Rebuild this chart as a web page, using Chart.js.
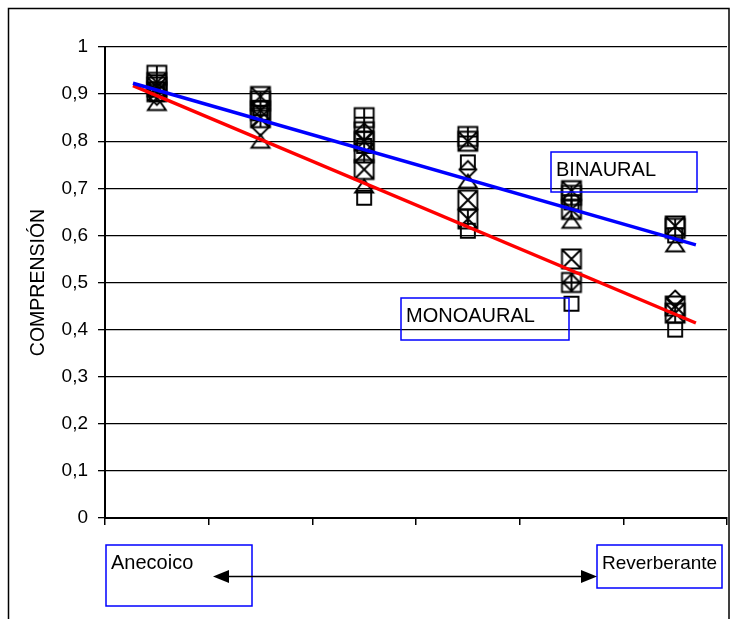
<!DOCTYPE html>
<html>
<head>
<meta charset="utf-8">
<script src="https://cdn.jsdelivr.net/npm/chart.js@4.4.1/dist/chart.umd.min.js"></script>
<style>
  body { margin: 0; background: #fff; }
</style>
</head>
<body>
<canvas id="chart" width="732" height="619"></canvas>
<script>
// categories along the x axis (no labels drawn, anecoico -> reverberante)
const categories = [0, 1, 2, 3, 4, 5];
const yTicks = [0, 0.1, 0.2, 0.3, 0.4, 0.5, 0.6, 0.7, 0.8, 0.9, 1];

// point series
const plusSquare  = [0.94, 0.885, 0.85, 0.81, 0.685, 0.615];
const crossSqA    = [0.925, 0.895, 0.80, 0.80, 0.695, 0.62];
const crossSqB    = [0.915, 0.865, 0.74, 0.675, 0.55, 0.45];
const starSquare  = [0.905, 0.85, 0.775, 0.635, 0.655, 0.435];
const diamonds    = [0.895, 0.83, 0.82, 0.74, 0.50, 0.465];
const triangles   = [0.88, 0.80, 0.705, 0.715, 0.63, 0.58];
const smallSqA    = [0.90, 0.86, 0.68, 0.755, 0.455, 0.40];
const smallSqB    = [0.91, 0.87, 0.79, 0.61, 0.67, 0.60];

// trend lines (start / end)
const binauralTrend  = [{ x: -0.23, y: 0.923 }, { x: 5.2, y: 0.58 }];
const monoauralTrend = [{ x: -0.23, y: 0.918 }, { x: 5.2, y: 0.414 }];

const FONT = "'Liberation Sans', Arial, sans-serif";

function makeMarker(kind) {
  const c = document.createElement("canvas");
  c.width = 24; c.height = 24;
  const g = c.getContext("2d");
  g.strokeStyle = "#000";
  g.lineWidth = 1.9;
  g.beginPath();
  if (kind === "square") {
    g.rect(5, 5, 14, 14);
  } else if (kind === "triangle") {
    g.moveTo(12, 5.5); g.lineTo(3, 18.5); g.lineTo(21, 18.5); g.closePath();
  } else if (kind === "diamond" || kind === "diamondSq") {
    g.moveTo(12, 3.5); g.lineTo(20.5, 12); g.lineTo(12, 20.5); g.lineTo(3.5, 12); g.closePath();
    if (kind === "diamondSq") { g.rect(2.5, 2.5, 19, 19); g.moveTo(3.5, 12); g.lineTo(20.5, 12); g.moveTo(12, 3.5); g.lineTo(12, 20.5); }
  } else {
    g.rect(2.5, 2.5, 19, 19);
    if (kind === "plus" || kind === "star") {
      if (kind === "plus") { g.moveTo(2.5, 12); g.lineTo(21.5, 12); }
      g.moveTo(12, 2.5); g.lineTo(12, 21.5);
    }
    if (kind === "cross" || kind === "star") {
      g.moveTo(2.5, 2.5); g.lineTo(21.5, 21.5);
      g.moveTo(21.5, 2.5); g.lineTo(2.5, 21.5);
    }
  }
  g.stroke();
  return c;
}

function pts(values) {
  return values.map((v, i) => ({ x: categories[i], y: v }));
}

function markerSet(label, values, style) {
  return {
    type: "scatter",
    label: label,
    data: pts(values),
    pointStyle: style,
    order: 1
  };
}

const dia = makeMarker("diamond"), diaSq = makeMarker("diamondSq");

// boxes and the arrow below the axis
const overlay = {
  id: "overlay",
  afterDraw(chart) {
    const ctx = chart.ctx;
    ctx.save();
    // outer frame
    ctx.strokeStyle = "#000";
    ctx.lineWidth = 1.5;
    ctx.strokeRect(8.5, 8.5, 720.5, 650);

    function box(x1, y1, x2, y2, text, size) {
      ctx.strokeStyle = "#0000ff";
      ctx.lineWidth = 1.5;
      ctx.strokeRect(x1, y1, x2 - x1, y2 - y1);
      ctx.fillStyle = "#000";
      ctx.font = size + "px " + FONT;
      ctx.textBaseline = "alphabetic";
      ctx.fillText(text, x1 + 5, y1 + 24);
    }
    box(551, 152, 697, 192, "BINAURAL", 20);
    box(401, 298, 569, 340, "MONOAURAL", 20);
    box(106, 545, 252, 606, "Anecoico", 20);
    box(597, 545, 722, 588, "Reverberante", 19);

    // double arrow
    const ay = 576.5, ax1 = 213, ax2 = 597;
    ctx.strokeStyle = "#000";
    ctx.fillStyle = "#000";
    ctx.lineWidth = 1.5;
    ctx.beginPath();
    ctx.moveTo(ax1 + 10, ay); ctx.lineTo(ax2 - 10, ay);
    ctx.stroke();
    ctx.beginPath();
    ctx.moveTo(ax1, ay); ctx.lineTo(ax1 + 16, ay - 6.5); ctx.lineTo(ax1 + 16, ay + 6.5); ctx.closePath();
    ctx.fill();
    ctx.beginPath();
    ctx.moveTo(ax2, ay); ctx.lineTo(ax2 - 16, ay - 6.5); ctx.lineTo(ax2 - 16, ay + 6.5); ctx.closePath();
    ctx.fill();
    ctx.restore();
  }
};

new Chart(document.getElementById("chart"), {
  type: "scatter",
  data: {
    datasets: [
      {
        type: "line", label: "BINAURAL", data: binauralTrend,
        borderColor: "#0000ff", borderWidth: 3.5, pointRadius: 0, order: 0
      },
      {
        type: "line", label: "MONOAURAL", data: monoauralTrend,
        borderColor: "#ff0000", borderWidth: 3.5, pointRadius: 0, order: 0
      },
      markerSet("plus", plusSquare, makeMarker("plus")),
      markerSet("crossA", crossSqA, makeMarker("cross")),
      markerSet("crossB", crossSqB, makeMarker("cross")),
      markerSet("star", starSquare, makeMarker("star")),
      markerSet("diamond", diamonds, [dia, dia, diaSq, dia, diaSq, dia]),
      markerSet("triangle", triangles, makeMarker("triangle")),
      markerSet("squareA", smallSqA, makeMarker("square")),
      markerSet("squareB", smallSqB, makeMarker("square"))
    ]
  },
  options: {
    responsive: false,
    animation: false,
    layout: { padding: { left: 0, top: 47, right: 4, bottom: 0 } },
    plugins: {
      legend: { display: false },
      tooltip: { enabled: false }
    },
    scales: {
      x: {
        type: "linear",
        min: -0.5,
        max: 5.5,
        afterBuildTicks: s => { s.ticks = [-0.5, 0.5, 1.5, 2.5, 3.5, 4.5, 5.5].map(v => ({ value: v })); },
        afterFit: s => { s.height = 101; },
        ticks: { display: false },
        grid: { drawOnChartArea: false, drawTicks: true, tickLength: 7, color: "#000", lineWidth: 1.5 },
        border: { color: "#000", width: 2 }
      },
      y: {
        min: 0,
        max: 1,
        afterBuildTicks: s => { s.ticks = yTicks.map(v => ({ value: v })); },
        afterFit: s => { s.width = 105; },
        ticks: {
          color: "#000",
          padding: 10,
          font: { family: FONT, size: 19 },
          callback: v => String(Math.round(v * 10) / 10).replace(".", ",")
        },
        grid: { color: "#000", lineWidth: 1.3, tickLength: 7 },
        border: { color: "#000", width: 2 },
        title: {
          display: true,
          text: "COMPRENSIÓN",
          color: "#000",
          font: { family: FONT, size: 19.5 },
          padding: { top: 27, bottom: 0 }
        }
      }
    }
  },
  plugins: [overlay]
});
</script>
</body>
</html>
